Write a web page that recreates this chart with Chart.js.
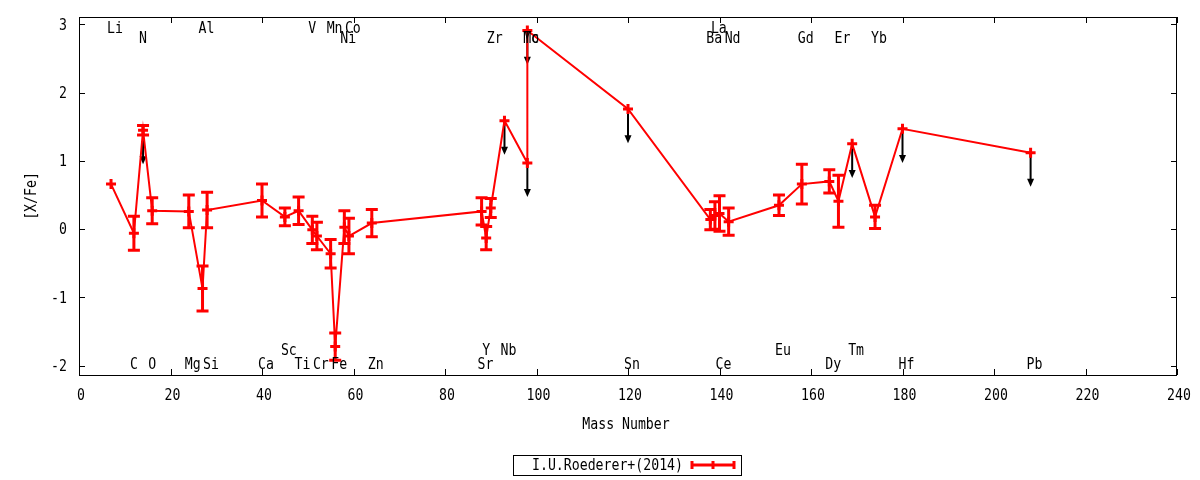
<!DOCTYPE html>
<html>
<head>
<meta charset="utf-8">
<script src="https://cdn.jsdelivr.net/npm/chart.js@4.4.1/dist/chart.umd.min.js"></script>
<style>
  html, body { margin: 0; padding: 0; background: #fff; }
  #wrap { width: 1200px; height: 480px; }
</style>
</head>
<body>
<div id="wrap"><canvas id="abundChart"></canvas></div>
<script>
// elements in the order the line joins them
const elements = ['Li', 'C', 'N', 'O', 'Mg', 'Al', 'Si', 'Ca', 'Sc', 'Ti', 'V', 'Cr', 'Mn', 'Fe',
  'Ni', 'Co', 'Zn', 'Sr', 'Y', 'Zr', 'Nb', 'Mo', 'Tc', 'Sn', 'Ba', 'La', 'Ce', 'Nd', 'Eu', 'Gd',
  'Dy', 'Er', 'Tm', 'Yb', 'Hf', 'Pb'];
const massNumbers = [7, 12, 14, 16, 24, 27, 28, 40, 45, 48, 51, 52, 55, 56,
  58, 59, 64, 88, 89, 90, 93, 98, 98, 120, 138, 139, 140, 142, 153, 158,
  164, 166, 169, 174, 180, 208];
const xFe = [0.66, -0.06, 1.45, 0.27, 0.26, -0.87, 0.28, 0.42, 0.18, 0.27, -0.01, -0.10, -0.36, -1.72,
  0.03, -0.10, 0.09, 0.26, -0.13, 0.31, 1.59, 0.97, 2.91, 1.76, 0.14, 0.20, 0.23, 0.11, 0.35, 0.66,
  0.70, 0.41, 1.25, 0.18, 1.47, 1.12];
const xFeErr = [0, 0.25, 0.07, 0.19, 0.24, 0.33, 0.26, 0.24, 0.13, 0.20, 0.20, 0.20, 0.21, 0.20,
  0.24, 0.26, 0.20, 0.20, 0.17, 0.14, 0, 0, 0, 0, 0.15, 0.20, 0.26, 0.20, 0.15, 0.29,
  0.17, 0.38, 0, 0.17, 0, 0];
const upperLimits = ['N', 'Nb', 'Mo', 'Tc', 'Sn', 'Tm', 'Hf', 'Pb'];

const yTicks = [-2, -1, 0, 1, 2, 3];

const seriesLabel = 'I.U.Roederer+(2014)';
const xTitle = 'Mass Number';
const yTitle = '[X/Fe]';

// where each element name sits: t1/t2 under the top border, b1/b2 above the bottom one
const nameRow = {
  Li: 't1', C: 'b2', N: 't2', O: 'b2', Mg: 'b2', Al: 't1', Si: 'b2', Ca: 'b2', Sc: 'b1', Ti: 'b2',
  V: 't1', Cr: 'b2', Mn: 't1', Fe: 'b2', Ni: 't2', Co: 't1', Zn: 'b2', Sr: 'b2', Y: 'b1', Zr: 't2',
  Nb: 'b1', Mo: 't2', Tc: 't2', Sn: 'b2', Ba: 't2', La: 't1', Ce: 'b2', Nd: 't2', Eu: 'b1', Gd: 't2',
  Dy: 'b2', Er: 't2', Tm: 'b1', Yb: 't2', Hf: 'b2', Pb: 'b2'
};
const rowOffset = { t1: 12, t2: 22, b1: -24, b2: -10 };
const limitArrow = 0.5;

// gnuplot's font is a narrow mono: draw DejaVu Sans Mono squeezed sideways
const FONT = '16px "DejaVu Sans Mono", monospace';
const SQUEEZE = 0.825;

function drawText(ctx, text, x, y, align, angle) {
  ctx.save();
  ctx.translate(x, y);
  if (angle) ctx.rotate(angle);
  ctx.scale(SQUEEZE, 1);
  ctx.font = FONT;
  ctx.fillStyle = '#000';
  ctx.textAlign = align;
  ctx.textBaseline = 'middle';
  ctx.fillText(text, 0, 0);
  ctx.restore();
}

const decorations = {
  id: 'decorations',
  beforeDatasetsDraw(chart) {
    const {ctx, scales: {x, y}} = chart;
    ctx.save();
    // upper limits: black arrows, the red line goes on top of them
    ctx.strokeStyle = '#000';
    ctx.fillStyle = '#000';
    ctx.lineWidth = 2;
    elements.forEach((el, i) => {
      if (!upperLimits.includes(el)) return;
      const px = x.getPixelForValue(massNumbers[i]);
      const y0 = y.getPixelForValue(xFe[i]);
      const y1 = y.getPixelForValue(xFe[i] - limitArrow);
      ctx.beginPath();
      ctx.moveTo(px, y0);
      ctx.lineTo(px, y1 - 6);
      ctx.stroke();
      ctx.beginPath();
      ctx.moveTo(px - 3.5, y1 - 8);
      ctx.lineTo(px + 3.5, y1 - 8);
      ctx.lineTo(px, y1);
      ctx.closePath();
      ctx.fill();
    });
    // error bars
    ctx.strokeStyle = '#ff0000';
    ctx.lineWidth = 3;
    elements.forEach((el, i) => {
      const e = xFeErr[i];
      if (!e) return;
      const px = x.getPixelForValue(massNumbers[i]);
      const top = y.getPixelForValue(xFe[i] + e);
      const bot = y.getPixelForValue(xFe[i] - e);
      ctx.beginPath();
      ctx.moveTo(px, top);
      ctx.lineTo(px, bot);
      ctx.moveTo(px - 6, top);
      ctx.lineTo(px + 6, top);
      ctx.moveTo(px - 6, bot);
      ctx.lineTo(px + 6, bot);
      ctx.stroke();
    });
    ctx.restore();
  },
  afterDraw(chart) {
    const {ctx, chartArea: a, scales: {x, y}} = chart;
    ctx.save();
    // frame and inward ticks on all four sides
    ctx.strokeStyle = '#000';
    ctx.lineWidth = 1;
    ctx.strokeRect(a.left + 0.5, a.top + 0.5, a.right - a.left - 1, a.bottom - a.top);
    ctx.beginPath();
    x.ticks.forEach(t => {
      const px = Math.round(x.getPixelForValue(t.value)) + 0.5;
      ctx.moveTo(px, a.bottom);
      ctx.lineTo(px, a.bottom - 6);
      ctx.moveTo(px, a.top);
      ctx.lineTo(px, a.top + 6);
    });
    y.ticks.forEach(t => {
      const py = Math.round(y.getPixelForValue(t.value)) + 0.5;
      ctx.moveTo(a.left, py);
      ctx.lineTo(a.left + 6, py);
      ctx.moveTo(a.right, py);
      ctx.lineTo(a.right - 6, py);
    });
    ctx.stroke();

    // tick labels
    x.ticks.forEach(t => drawText(ctx, String(t.value), x.getPixelForValue(t.value) + 2, 396, 'center'));
    y.ticks.forEach(t => drawText(ctx, String(t.value), 67, y.getPixelForValue(t.value) + 1, 'right'));

    // element names
    elements.forEach((el, i) => {
      const row = nameRow[el];
      const py = row[0] === 't' ? a.top + rowOffset[row] : a.bottom + rowOffset[row];
      drawText(ctx, el, x.getPixelForValue(massNumbers[i]) - 4, py, 'left');
    });

    // axis titles
    drawText(ctx, xTitle, (a.left + a.right) / 2 - 2, 425, 'center');
    drawText(ctx, yTitle, 32, (a.top + a.bottom) / 2, 'center', -Math.PI / 2);

    // legend
    ctx.strokeStyle = '#000';
    ctx.lineWidth = 1;
    ctx.strokeRect(513.5, 455.5, 228, 20);
    drawText(ctx, seriesLabel, 532, 466, 'left');
    ctx.strokeStyle = '#ff0000';
    ctx.lineWidth = 3;
    ctx.beginPath();
    ctx.moveTo(692, 465);
    ctx.lineTo(734, 465);
    [692, 713, 734].forEach(px => {
      ctx.moveTo(px, 461);
      ctx.lineTo(px, 469);
    });
    ctx.stroke();
    ctx.restore();
  }
};

const ctx = document.getElementById('abundChart').getContext('2d');
new Chart(ctx, {
  type: 'line',
  data: {
    datasets: [{
      label: seriesLabel,
      data: massNumbers.map((m, i) => ({x: m, y: xFe[i]})),
      borderColor: '#ff0000',
      borderWidth: 2,
      pointStyle: 'cross',
      pointRadius: 5,
      pointBorderWidth: 3,
      pointBorderColor: '#ff0000',
      pointBackgroundColor: '#ff0000',
      tension: 0,
      fill: false
    }]
  },
  options: {
    responsive: true,
    maintainAspectRatio: false,
    animation: false,
    devicePixelRatio: 1,
    layout: { padding: { left: 0, top: 17, right: 23, bottom: 0 } },
    plugins: {
      legend: { display: false },
      tooltip: { enabled: false }
    },
    scales: {
      x: {
        type: 'linear',
        min: 0,
        max: 240,
        grid: { display: false, drawTicks: false },
        border: { display: false },
        // labels are drawn by the plugin in the narrow font
        ticks: { stepSize: 20, display: false },
        afterFit: s => { s.height = 105; }
      },
      y: {
        type: 'linear',
        min: -2.136,
        max: 3.108,
        grid: { display: false, drawTicks: false },
        border: { display: false },
        ticks: { display: false },
        afterBuildTicks: s => { s.ticks = yTicks.map(v => ({value: v})); },
        afterFit: s => { s.width = 79; }
      }
    }
  },
  plugins: [decorations]
});
</script>
</body>
</html>
